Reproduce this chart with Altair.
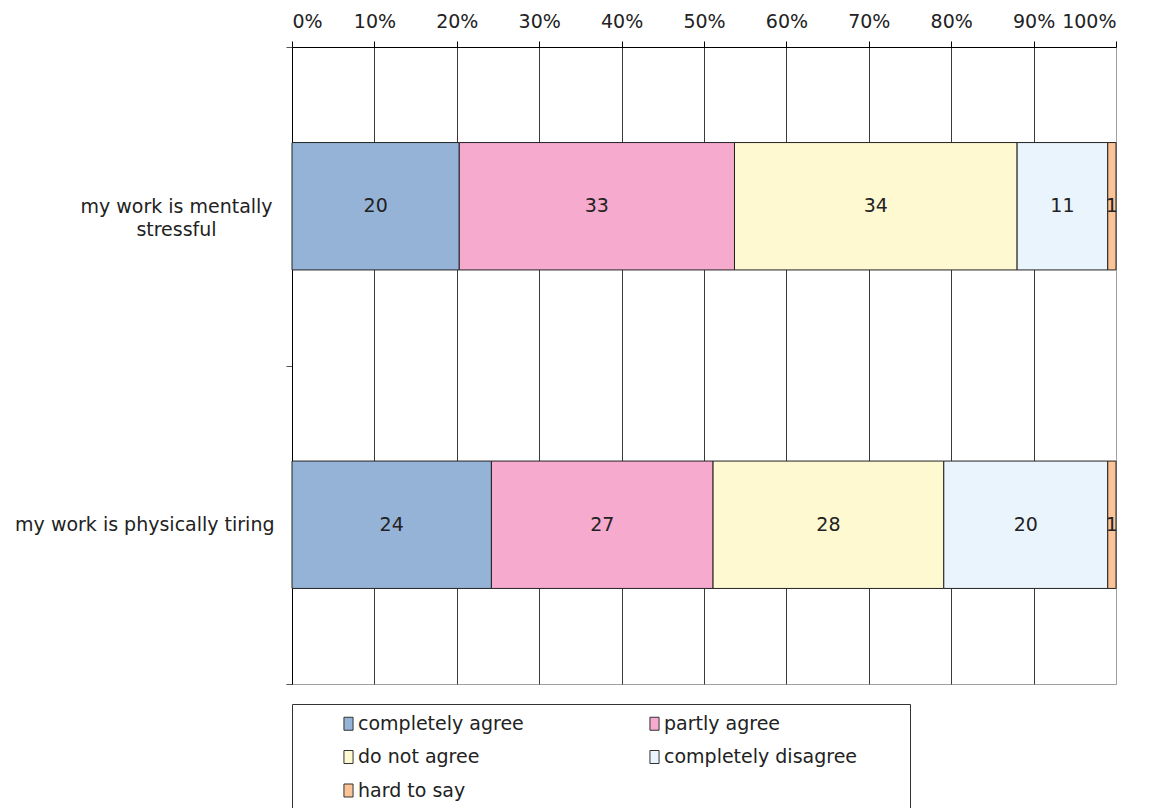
import altair as alt
import pandas as pd

questions = ["my work is mentally stressful", "my work is physically tiring"]
answers = ["completely agree", "partly agree", "do not agree", "completely disagree", "hard to say"]
mentally = [20.3, 33.4, 34.3, 11.0, 1.0]
physically = [24.2, 26.9, 28.0, 19.9, 1.0]
colors = ["#95B3D7", "#F5AACE", "#FFF9D2", "#EAF4FC", "#FAC497"]
x_ticks = [0, 10, 20, 30, 40, 50, 60, 70, 80, 90, 100]

rows = []
for q, vals in zip(questions, [mentally, physically]):
    for i, (a, v) in enumerate(zip(answers, vals)):
        rows.append({"question": q, "answer": a, "order": i, "value": v})
df = pd.DataFrame(rows)

FONT = "DejaVu Sans"
TXT = "#222222"
FS = 19
LONG = "my work is mentally stressful"
test_long = f"datum.value == '{LONG}'"
PAD = " " * 7 + "\u200b"

base = alt.Chart(df).transform_stack(
    stack="value", groupby=["question"], as_=["v0", "v1"],
    sort=[alt.SortField("order", order="ascending")]
).transform_calculate(mid="(datum.v0 + datum.v1) / 2")

y_scale = alt.Scale(paddingInner=0, paddingOuter=0)

y_enc = alt.Y(
    "question:N", sort=questions, scale=y_scale,
    axis=alt.Axis(
        title=None, domainColor="#000000", tickColor="#555555", tickSize=6,
        tickBand="extent", labelFontSize=FS, labelColor=TXT, labelFont=FONT,
        labelLineHeight=23, labelLimit=0,
        labelExpr=f"datum.label == '{LONG}' ? ['my work is mentally', 'stressful'] : datum.label",
        labelAlign={"condition": {"test": test_long, "value": "center"}, "value": "right"},
        labelPadding={"condition": {"test": test_long, "value": 110}, "value": 12},
    ),
)

x_axis = alt.Axis(
    orient="top", title=None, values=x_ticks, labelExpr="datum.value + '%'",
    domainColor="#000000", tickColor="#000000", tickSize=6, labelPadding=10,
    labelFontSize=FS, labelColor=TXT, labelFont=FONT,
    grid=True, gridWidth=1,
    gridColor={"condition": {"test": "datum.value == 100", "value": "#a0a0a0"}, "value": "#3a3a3a"},
)

bars = base.mark_bar(stroke="#222222", strokeWidth=1, height={"band": 0.4}).encode(
    x=alt.X("v0:Q", scale=alt.Scale(domain=[0, 100], nice=False), axis=x_axis),
    x2="v1:Q",
    y=y_enc,
    color=alt.Color(
        "answer:N",
        scale=alt.Scale(domain=answers, range=colors),
        legend=alt.Legend(
            title=None, orient="none", legendX=0, legendY=657, columns=2,
            direction="horizontal",
            columnPadding=84, rowPadding=13.5, padding=10,
            strokeColor="#333333", fillColor="white",
            symbolType="M-0.7,-1H0.7V1H-0.7Z", symbolSize=169,
            symbolStrokeColor="#333333", symbolStrokeWidth=1,
            symbolOffset=37, labelOffset=0,
            labelFontSize=FS, labelFont=FONT, labelColor=TXT, labelLimit=0,
            labelExpr=f"datum.label == 'completely disagree' ? datum.label + '{PAD}' : datum.label",
        ),
    ),
)

labels = base.mark_text(fontSize=FS, font=FONT, color=TXT).encode(
    x=alt.X("mid:Q"),
    y=alt.Y("question:N", sort=questions, scale=y_scale),
    text=alt.Text("value:Q", format=".0f"),
)

chart = alt.layer(bars, labels).properties(
    width=824, height=637,
    padding={"left": 292, "top": 47, "right": 35, "bottom": 124},
    autosize=alt.AutoSizeParams(type="none"),
).configure_view(stroke="#a0a0a0")

chart.save("out.html", embed_options={"renderer": "svg", "actions": False})
